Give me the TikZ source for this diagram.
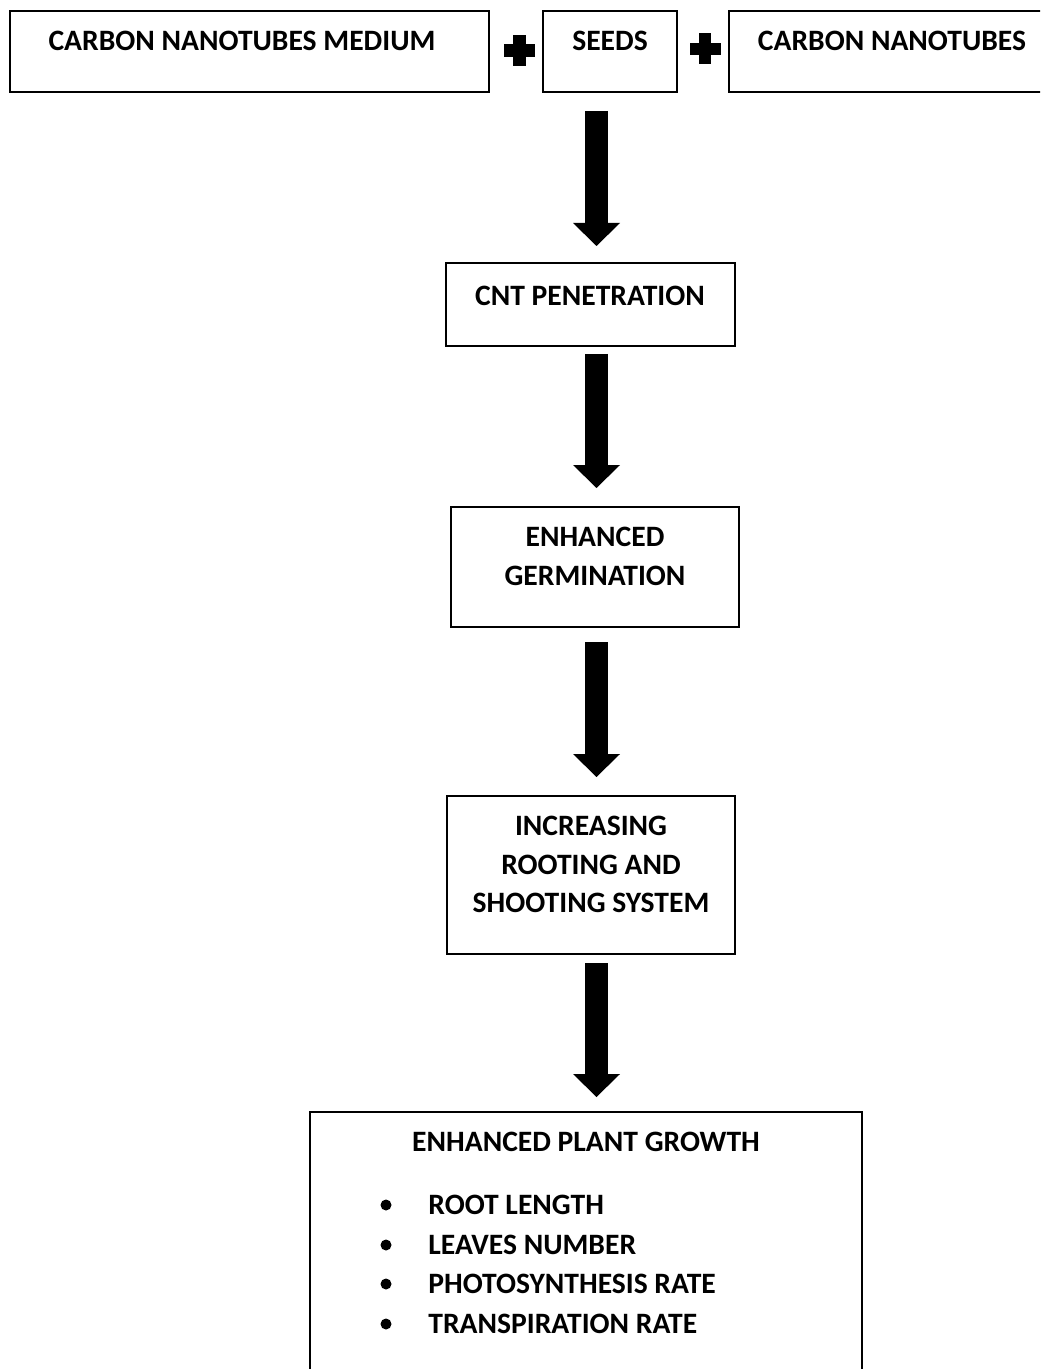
\documentclass[tikz,border=0pt]{standalone}
\usepackage{fontspec}
\setmainfont{Carlito}
\usetikzlibrary{arrows.meta,calc}
\begin{document}
\begin{tikzpicture}[x=0.5pt,y=-0.5pt,
  box/.style={draw, line width=1pt, inner sep=0, fill=white},
  lbl/.style={inner sep=0, font=\fontsize{14.8pt}{19.25pt}\selectfont\bfseries, align=center},
  item/.style={inner sep=0, anchor=west, font=\fontsize{14.8pt}{19.25pt}\selectfont\bfseries},
  bigarrow/.style={line width=11.5pt, -{Triangle[width=23.5pt,length=11.5pt,line width=0pt]}},
  plusbar/.style={fill=black}
]
\clip (0,0) rectangle (1040,1369);
\fill[white] (0,0) rectangle (1040,1369);

% boxes
\node[box, minimum width=239.5pt, minimum height=40.5pt] (medium) at (249.5,51.5) {};
\node[box, minimum width=67pt, minimum height=40.5pt] (seeds) at (610,51.5) {};
\node[box, minimum width=163pt, minimum height=40.5pt] (cnts) at (892,51.5) {};
\node[box, minimum width=144.5pt, minimum height=41.5pt] (pen) at (590.5,304.5) {};
\node[box, minimum width=144pt, minimum height=60pt] (germ) at (595,567) {};
\node[box, minimum width=144pt, minimum height=79pt] (inc) at (591,875) {};
\node[box, minimum width=276pt, minimum height=154pt] (grow) at (586,1266) {};

% texts
\node[lbl] (tmedium) at (242,41) {CARBON NANOTUBES MEDIUM};
\node[lbl] (tseeds) at (610,41) {SEEDS};
\node[lbl] (tcnts) at (892,41) {CARBON NANOTUBES};
\node[lbl] (tpen) at (590,296) {CNT PENETRATION};
\node[lbl] (tgerm) at (595,556.5) {ENHANCED\\GERMINATION};
\node[lbl] (tinc) at (591,864.5) {INCREASING\\ROOTING AND\\SHOOTING SYSTEM};
\node[lbl] (tgrow) at (586,1142) {ENHANCED PLANT GROWTH};
\node[item] (i1) at (428,1205) {ROOT LENGTH};
\node[item] (i2) at (428,1245) {LEAVES NUMBER};
\node[item] (i3) at (428,1284) {PHOTOSYNTHESIS RATE};
\node[item] (i4) at (428,1324) {TRANSPIRATION RATE};
\foreach \yy in {1205,1245,1284,1324} \fill (386,\yy) circle (5.5);

% plus signs
\foreach \cx/\cy in {519.5/50.5, 705/49} {
  \fill[plusbar] (\cx-15.5,\cy-6.25) rectangle (\cx+15.5,\cy+6.25);
  \fill[plusbar] (\cx-6.25,\cy-15.5) rectangle (\cx+6.25,\cy+15.5);
}

% arrows
\coordinate (ax) at (596.5,0);
\draw[bigarrow] ($(seeds.south -| ax)+(0,18)$) -- ($(pen.north -| ax)+(0,-16)$);
\draw[bigarrow] ($(pen.south -| ax)+(0,7)$) -- ($(germ.north -| ax)+(0,-18)$);
\draw[bigarrow] ($(germ.south -| ax)+(0,14)$) -- ($(inc.north -| ax)+(0,-18)$);
\draw[bigarrow] ($(inc.south -| ax)+(0,8)$) -- ($(grow.north -| ax)+(0,-14)$);
\end{tikzpicture}
\end{document}
